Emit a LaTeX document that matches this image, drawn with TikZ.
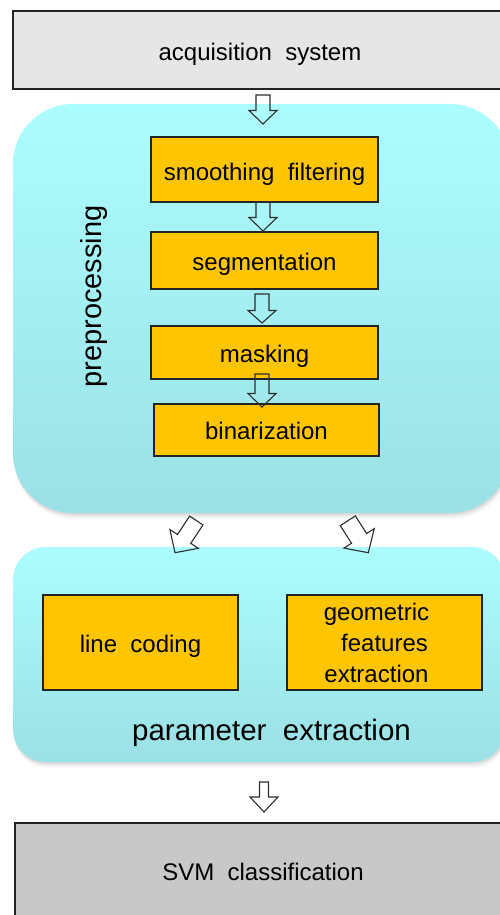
\documentclass[tikz,border=0pt]{standalone}
\usepackage{fontspec}
\setmainfont{Liberation Sans}
\usetikzlibrary{calc,shadows}
\definecolor{gold}{RGB}{255,198,0}
\definecolor{edge}{RGB}{35,35,35}
\definecolor{acqgray}{RGB}{230,230,230}
\definecolor{svmgray}{RGB}{200,200,200}
\definecolor{cyantop}{RGB}{172,253,255}
\definecolor{cyanbot}{RGB}{155,224,228}
\definecolor{arrowedge}{RGB}{45,45,45}
% hollow block arrow from #1 to #2: shaft half width #3, head half width #4, head length #5 (pt, unitless)
\newcommand\blockarrow[5]{%
  \draw[blockarr] let \p1=(#1),\p2=(#2),\n1={atan2(\y2-\y1,\x2-\x1)},\n2={veclen(\x2-\x1,\y2-\y1)} in
    ($(\p1)+(\n1+90:#3pt)$)
    -- ($(\p1)+(\n1:{(\n2-#5)*1pt})+(\n1+90:#3pt)$)
    -- ($(\p1)+(\n1:{(\n2-#5)*1pt})+(\n1+90:#4pt)$)
    -- (\p2)
    -- ($(\p1)+(\n1:{(\n2-#5)*1pt})+(\n1-90:#4pt)$)
    -- ($(\p1)+(\n1:{(\n2-#5)*1pt})+(\n1-90:#3pt)$)
    -- ($(\p1)+(\n1-90:#3pt)$) -- cycle;}
\tikzset{
  x=1pt, y=-1pt,
  stagebox/.style={draw=edge, line width=1.2pt, inner sep=0pt,
    font=\fontsize{24pt}{29pt}\selectfont, text height=19pt, text depth=0pt},
  orangebox/.style={stagebox, fill=gold},
  geobox/.style={draw=edge, line width=1.2pt, inner sep=0pt, fill=gold, align=center,
    font=\fontsize{24pt}{31pt}\selectfont},
  panel/.style={top color=cyantop, bottom color=cyanbot, draw=none,
    drop shadow={shadow xshift=0.5pt, shadow yshift=-2pt, opacity=.14},
    drop shadow={shadow xshift=1pt, shadow yshift=-4pt, opacity=.10},
    drop shadow={shadow xshift=1.5pt, shadow yshift=-6pt, opacity=.06}},
  biglabel/.style={font=\fontsize{29pt}{35pt}\selectfont, inner sep=0pt},
  blockarr/.style={draw=arrowedge, line width=1.1pt, line join=miter, fill=none}
}
\begin{document}
\begin{tikzpicture}
\useasboundingbox (0,0) rectangle (500,915);
\clip (0,0) rectangle (500,915);
\fill[white] (0,0) rectangle (500,915);

% acquisition
\node[stagebox, fill=acqgray, minimum width=494pt, minimum height=78pt, text height=22pt] (acq) at (260,50) {acquisition\ \ system};

% preprocessing panel
\node[panel, minimum width=497pt, minimum height=409pt, rounded corners=60pt] (pre) at (261.5,308.5) {};
\node[biglabel, rotate=90, anchor=base] (prelabel) at (101,296.5) {preprocessing};

\node[orangebox, minimum width=227pt, minimum height=65pt, text height=21pt] (smooth) at (264.5,169.5) {smoothing\ \ filtering};
\node[orangebox, minimum width=227pt, minimum height=57pt] (seg) at (264.5,260.5) {segmentation};
\node[orangebox, minimum width=227pt, minimum height=53pt] (mask) at (264.5,352.5) {masking};
\node[orangebox, minimum width=225pt, minimum height=52pt] (bin) at (266.5,430) {binarization};

\coordinate (a1s) at (263,95);  \coordinate (a1e) at (263,124);
\coordinate (a2s) at (263,202); \coordinate (a2e) at (263,231);
\coordinate (a3s) at (262,294); \coordinate (a3e) at (262,323);
\coordinate (a4s) at (262,374); \coordinate (a4e) at (262,407);
\blockarrow{a1s}{a1e}{7}{14}{13.5}
\blockarrow{a2s}{a2e}{7}{14}{13.5}
\blockarrow{a3s}{a3e}{7}{14}{12.5}
\blockarrow{a4s}{a4e}{7}{14}{13.5}

% parameter extraction panel
\node[panel, minimum width=492pt, minimum height=215pt, rounded corners=33pt] (par) at (259,654.5) {};
\node[orangebox, minimum width=195pt, minimum height=95pt] (line) at (140.5,642.5) {line\ \ coding};
\node[geobox, minimum width=195pt, minimum height=95pt] (geo) at (384.5,642.5)
  {geometric\hspace*{16pt}\\\hspace*{0pt}features\hspace*{2pt}\\extraction\hspace*{16pt}};
\node[biglabel, font=\fontsize{29.5pt}{35pt}\selectfont, anchor=base] (parlabel) at (271.5,740) {parameter\ \ extraction};

\coordinate (a6s) at (196.3,520.5); \coordinate (a6e) at (175,552.7);
\coordinate (a7s) at (347.8,520.8); \coordinate (a7e) at (368.3,552.7);
\blockarrow{a6s}{a6e}{8}{17}{16.5}
\blockarrow{a7s}{a7e}{9}{18}{17}

% SVM
\node[stagebox, fill=svmgray, minimum width=496pt, minimum height=96pt, text height=19.4pt] (svm) at (263,871) {SVM\ \ classification};
\coordinate (a5s) at (264,782); \coordinate (a5e) at (264,812);
\blockarrow{a5s}{a5e}{4.5}{14}{15}
\end{tikzpicture}
\end{document}
